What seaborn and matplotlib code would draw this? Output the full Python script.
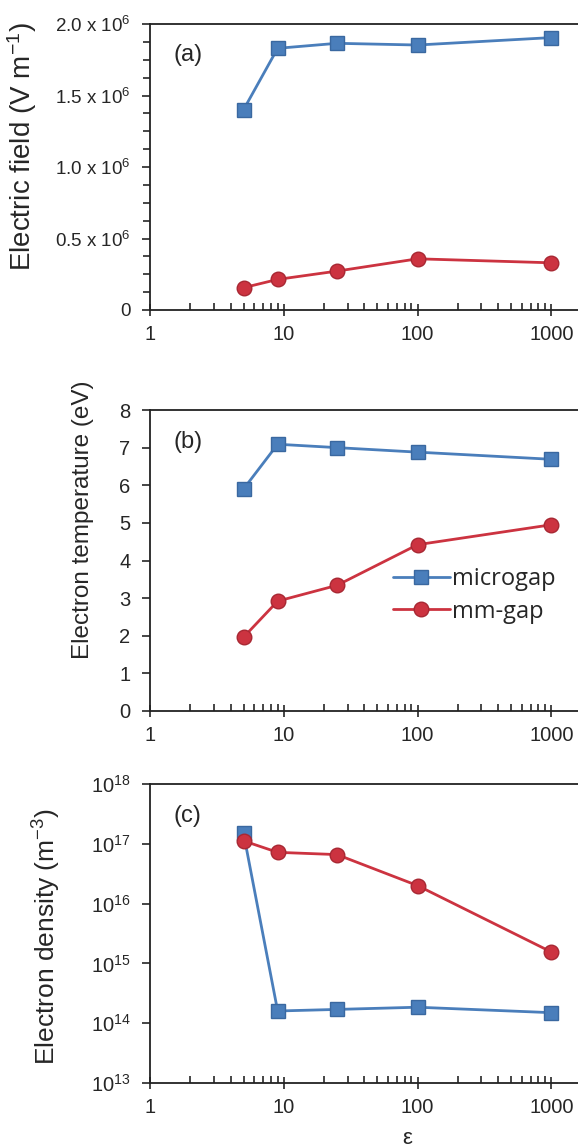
import numpy as np
import pandas as pd
import matplotlib
matplotlib.use("Agg")
import matplotlib.pyplot as plt
from matplotlib.ticker import FixedLocator, FixedFormatter, LogLocator, NullLocator
import seaborn as sns

# === Data ===
eps = [5, 9, 25, 100, 1000]
series = ["microgap", "mm-gap"]

field_micro = [1.40e6, 1.83e6, 1.865e6, 1.853e6, 1.905e6]
field_mm = [0.156e6, 0.214e6, 0.272e6, 0.358e6, 0.33e6]

temp_micro = [5.9, 7.09, 7.0, 6.88, 6.69]
temp_mm = [1.96, 2.92, 3.34, 4.42, 4.95]

dens_micro = [1.5e17, 1.6e14, 1.7e14, 1.85e14, 1.5e14]
dens_mm = [1.12e17, 7.2e16, 6.6e16, 2.0e16, 1.55e15]

field_ticks = [0, 0.5e6, 1.0e6, 1.5e6, 2.0e6]
field_labels = ["0", r"0.5 x 10$^{6}$", r"1.0 x 10$^{6}$", r"1.5 x 10$^{6}$", r"2.0 x 10$^{6}$"]
dens_ticks = [1e13, 1e14, 1e15, 1e16, 1e17, 1e18]
dens_labels = [r"10$^{13}$", r"10$^{14}$", r"10$^{15}$", r"10$^{16}$", r"10$^{17}$", r"10$^{18}$"]
x_ticks = [1, 10, 100, 1000]
x_labels = ["1", "10", "100", "1000"]

colors = {"microgap": "#4a7ebb", "mm-gap": "#cc3340"}
edge_colors = {"microgap": "#3a68a0", "mm-gap": "#a82833"}
markers = {"microgap": "s", "mm-gap": "o"}


def long_df(a, b):
    return pd.DataFrame({
        "eps": eps + eps,
        "value": a + b,
        "gap": ["microgap"] * len(eps) + ["mm-gap"] * len(eps),
    })


sns.set_style("ticks")
plt.rcParams["font.family"] = ["Liberation Sans", "DejaVu Sans"]
plt.rcParams["mathtext.fontset"] = "custom"
plt.rcParams["mathtext.rm"] = "Liberation Sans"
plt.rcParams["mathtext.it"] = "Liberation Sans"

fig = plt.figure(figsize=(5.78, 11.47), dpi=100)
left, width = 150 / 578, 1 - 150 / 578 + 0.01
ax_a = fig.add_axes([left, 1 - 310 / 1147, width, (310 - 24) / 1147])
ax_b = fig.add_axes([left, 1 - 711 / 1147, width, (711 - 410) / 1147])
ax_c = fig.add_axes([left, 1 - 1083 / 1147, width, (1083 - 784) / 1147])

panels = [
    (ax_a, long_df(field_micro, field_mm), "(a)"),
    (ax_b, long_df(temp_micro, temp_mm), "(b)"),
    (ax_c, long_df(dens_micro, dens_mm), "(c)"),
]

for ax, df, tag in panels:
    sns.lineplot(data=df, x="eps", y="value", hue="gap", style="gap",
                 palette=colors, markers=markers, dashes=False,
                 markersize=10.5, linewidth=2, markeredgewidth=1,
                 ax=ax, legend=(tag == "(b)"))
    for line in ax.lines:
        for name in series:
            if line.get_color() == colors[name]:
                line.set_markeredgecolor(edge_colors[name])
    ax.set_xscale("log")
    ax.set_xlim(1, 10 ** ((578 - 150) / 132))
    ax.xaxis.set_major_locator(FixedLocator(x_ticks))
    ax.xaxis.set_major_formatter(FixedFormatter(x_labels))
    ax.xaxis.set_minor_locator(LogLocator(base=10, subs=np.arange(2, 10)))
    ax.tick_params(axis="x", which="major", direction="inout", length=9, width=1.2, labelsize=14.5, pad=6)
    ax.tick_params(axis="x", which="minor", direction="in", length=5, width=1.2)
    ax.tick_params(axis="y", which="major", direction="out", length=6, width=1.2, labelsize=14.5, pad=8)
    ax.tick_params(axis="y", which="minor", direction="out", length=5, width=1.2)
    for s in ["left", "bottom", "top"]:
        ax.spines[s].set_linewidth(1.3)
        ax.spines[s].set_color("#222222")
    ax.spines["right"].set_visible(False)
    ax.set_xlabel("")
    ax.text(0.055, 0.93, tag, transform=ax.transAxes, fontsize=17, va="top", ha="left")

ax_a.set_ylim(0, 2.0e6)
ax_a.yaxis.set_major_locator(FixedLocator(field_ticks))
ax_a.yaxis.set_major_formatter(FixedFormatter(field_labels))
ax_a.yaxis.set_minor_locator(FixedLocator(np.arange(0, 2.0e6, 0.125e6)))
ax_a.tick_params(axis="y", which="major", labelsize=13.5)
ax_a.set_ylabel(r"Electric field (V m$^{-1}$)", fontsize=20)
ax_a.yaxis.set_label_coords(-0.255, 0.57)

ax_b.set_ylim(0, 8)
ax_b.set_yticks(range(0, 9))
ax_b.yaxis.set_minor_locator(NullLocator())
ax_b.set_ylabel("Electron temperature (eV)", fontsize=17.5)
ax_b.yaxis.set_label_coords(-0.13, 0.635)
leg = ax_b.legend(loc="lower right", bbox_to_anchor=(0.935, 0.29), frameon=False,
                  borderpad=0, borderaxespad=0,
                  handlelength=2.4, handletextpad=0.1, labelspacing=0.35,
                  prop={"family": "Open Sans", "size": 17})

ax_c.set_yscale("log")
ax_c.set_ylim(1e13, 1e18)
ax_c.yaxis.set_major_locator(FixedLocator(dens_ticks))
ax_c.yaxis.set_major_formatter(FixedFormatter(dens_labels))
ax_c.yaxis.set_minor_locator(NullLocator())
ax_c.set_ylabel(r"Electron density (m$^{-3}$)", fontsize=19)
ax_c.yaxis.set_label_coords(-0.2, 0.49)
ax_c.set_xlabel("ε", fontsize=16, labelpad=0)
ax_c.xaxis.set_label_coords(0.592, -0.15)

fig.savefig("out.png", dpi=100)
